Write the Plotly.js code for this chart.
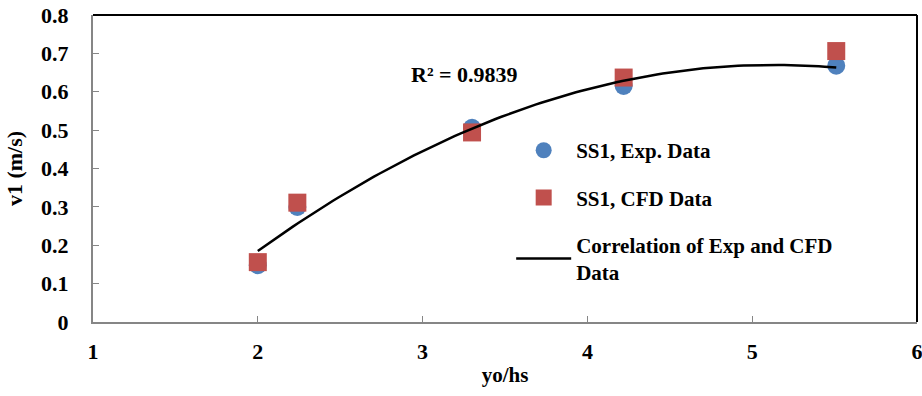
<!DOCTYPE html>
<html>
<head>
<meta charset="utf-8">
<script src="https://cdn.plot.ly/plotly-3.0.1.min.js"></script>
<style>html,body{margin:0;padding:0;background:#fff;}#chart{width:922px;height:396px;}</style>
</head>
<body>
<div id="chart"></div>
<script>
// Data
const xVals = [2.0, 2.24, 3.3, 4.22, 5.51];
const expData = [0.148, 0.300, 0.506, 0.615, 0.668];
const cfdData = [0.156, 0.311, 0.494, 0.637, 0.706];
const seriesNames = ["SS1, Exp. Data", "SS1, CFD Data", "Correlation of Exp and CFD<br>Data"];
const r2Label = "R² = 0.9839";
const xTicks = [1, 2, 3, 4, 5, 6];
const yTicks = [0, 0.1, 0.2, 0.3, 0.4, 0.5, 0.6, 0.7, 0.8];
const yTickText = ["0", "0.1", "0.2", "0.3", "0.4", "0.5", "0.6", "0.7", "0.8"];

// Quadratic least-squares trendline (like Excel's polynomial order-2 trendline)
function polyfit2(xs, ys) {
  let S = [0,0,0,0,0], T = [0,0,0];
  for (let i = 0; i < xs.length; i++) {
    let p = 1;
    for (let k = 0; k < 5; k++) { S[k] += p; if (k < 3) T[k] += p * ys[i]; p *= xs[i]; }
  }
  const M = [[S[0],S[1],S[2],T[0]],[S[1],S[2],S[3],T[1]],[S[2],S[3],S[4],T[2]]];
  for (let i = 0; i < 3; i++) {
    for (let j = i + 1; j < 3; j++) {
      const f = M[j][i] / M[i][i];
      for (let k = i; k < 4; k++) M[j][k] -= f * M[i][k];
    }
  }
  const c = [0,0,0];
  for (let i = 2; i >= 0; i--) {
    let s = M[i][3];
    for (let k = i + 1; k < 3; k++) s -= M[i][k] * c[k];
    c[i] = s / M[i][i];
  }
  return c;
}
const coef = polyfit2(xVals, expData);
const xMin = Math.min(...xVals), xMax = Math.max(...xVals);
const fitX = [], fitY = [];
for (let i = 0; i <= 100; i++) {
  const x = xMin + (xMax - xMin) * i / 100;
  fitX.push(x);
  fitY.push(coef[0] + coef[1] * x + coef[2] * x * x);
}

const FONT = "Liberation Serif, Times New Roman, serif";

const traces = [
  {x: xVals, y: expData, type: "scatter", mode: "markers", name: seriesNames[0],
   marker: {symbol: "circle", size: 18, color: "#4F81BD"}, legendgroup: "a"},
  {x: xVals, y: cfdData, type: "scatter", mode: "markers", name: seriesNames[1],
   marker: {symbol: "square", size: 18, color: "#C0504D"}, legendgroup: "b"},
  {x: fitX, y: fitY, type: "scatter", mode: "lines", name: seriesNames[2],
   line: {color: "#000000", width: 2.5}, legendgroup: "c"}
];

const layout = {
  width: 922, height: 396,
  margin: {l: 93, r: 5, t: 15, b: 74},
  paper_bgcolor: "#ffffff", plot_bgcolor: "#ffffff",
  font: {family: FONT, size: 20, color: "#000"},
  showlegend: true,
  legend: {x: 0.5075, y: 0.625, xanchor: "left", yanchor: "top",
    font: {family: FONT, size: 21, color: "#000", weight: "bold"},
    bgcolor: "rgba(0,0,0,0)", traceorder: "grouped", tracegroupgap: 17, itemwidth: 55},
  xaxis: {range: [1, 6], tickvals: xTicks, ticktext: xTicks.map(String),
    showgrid: false, zeroline: false, showline: true, linecolor: "#868686", linewidth: 2,
    ticks: "inside", ticklen: 6, tickcolor: "#868686", tickwidth: 1,
    ticklabelstandoff: 9, ticklabeloverflow: "allow",
    tickfont: {family: FONT, size: 22, color: "#000", weight: "bold"},
    title: {text: "yo/hs", font: {family: FONT, size: 21, color: "#000", weight: "bold"}, standoff: 4}},
  yaxis: {range: [0, 0.8], tickvals: yTicks, ticktext: yTickText,
    showgrid: false, zeroline: false, showline: true, linecolor: "#868686", linewidth: 2,
    ticks: "inside", ticklen: 6, tickcolor: "#868686", tickwidth: 1,
    ticklabelstandoff: 18, ticklabeloverflow: "allow",
    tickfont: {family: FONT, size: 22, color: "#000", weight: "bold"},
    title: {text: "v1 (m/s)", font: {family: FONT, size: 22, color: "#000", weight: "bold"}, standoff: 12}},
  shapes: [
    {type: "line", xref: "paper", yref: "paper", x0: 0, x1: 1, y0: 1, y1: 1, line: {color: "#000", width: 2}},
    {type: "line", xref: "paper", yref: "paper", x0: 1, x1: 1, y0: 0, y1: 1, line: {color: "#000", width: 2}}
  ],
  annotations: [
    {text: r2Label, xref: "paper", yref: "paper", x: 0.451, y: 0.805, xanchor: "center", yanchor: "middle",
     showarrow: false, font: {family: FONT, size: 22, color: "#000", weight: "bold"}}
  ]
};

Plotly.newPlot("chart", traces, layout, {displayModeBar: false, staticPlot: true});
</script>
</body>
</html>
